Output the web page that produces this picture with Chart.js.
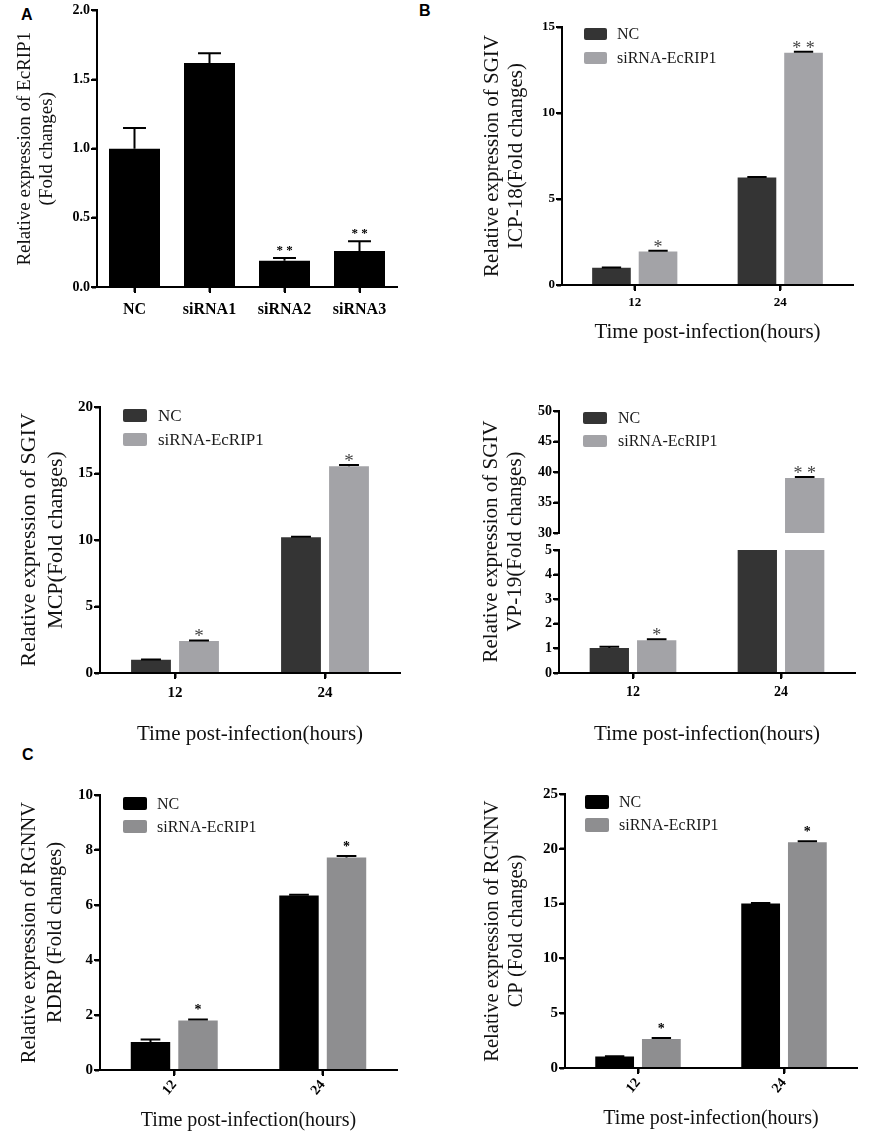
<!DOCTYPE html>
<html>
<head>
<meta charset="utf-8">
<script src="https://cdn.jsdelivr.net/npm/chart.js@4.4.1/dist/chart.umd.min.js"></script>
<style>
  html, body { margin: 0; padding: 0; background: #fff; }
  body { position: relative; width: 893px; height: 1137px; overflow: hidden; }
  canvas { position: absolute; }
  .tag { position: absolute; font: bold 16px "Liberation Sans", Arial, sans-serif; color: #000; }
</style>
</head>
<body>
<div class="tag" style="left:21px;top:6px">A</div>
<div class="tag" style="left:419px;top:2px">B</div>
<div class="tag" style="left:22px;top:746px">C</div>

<script>
// ---- data ----
const knockCategories = ['NC', 'siRNA1', 'siRNA2', 'siRNA3'];
const knockValues = [1.0, 1.62, 0.19, 0.26];
const knockErrors = [0.15, 0.07, 0.02, 0.07];
const knockStars = ['', '', '**', '**'];
const knockTicks = [0, 0.5, 1.0, 1.5, 2.0];

const hours = ['12', '24'];
const seriesNames = ['NC', 'siRNA-EcRIP1'];

const icpNC = [1.0, 6.25];
const icpSi = [1.95, 13.5];
const icpErrNC = [0.02, 0.03];
const icpErrSi = [0.04, 0.06];
const icpStars = ['*', '**'];
const icpTicks = [0, 5, 10, 15];

const mcpNC = [1.0, 10.2];
const mcpSi = [2.4, 15.55];
const mcpErrNC = [0.02, 0.05];
const mcpErrSi = [0.05, 0.08];
const mcpStars = ['*', '*'];
const mcpTicks = [0, 5, 10, 15, 20];

const vpNC = [1.02, 10];      // 24 h NC bar sits inside the axis break
const vpSi = [1.33, 39.0];
const vpErrNC = [0.05, null];
const vpErrSi = [0.04, 0.2];
const vpStars = ['*', '**'];
const vpLowTicks = [0, 1, 2, 3, 4, 5];
const vpHighTicks = [30, 35, 40, 45, 50];

const rdrpNC = [1.02, 6.35];
const rdrpSi = [1.8, 7.73];
const rdrpErrNC = [0.09, 0.02];
const rdrpErrSi = [0.04, 0.05];
const rdrpStars = ['*', '*'];
const rdrpTicks = [0, 2, 4, 6, 8, 10];

const cpNC = [1.05, 15.0];
const cpSi = [2.65, 20.6];
const cpErrNC = [0.03, 0.05];
const cpErrSi = [0.08, 0.08];
const cpStars = ['*', '*'];
const cpTicks = [0, 5, 10, 15, 20, 25];

const SERIF = "'Liberation Serif', 'Times New Roman', serif";

// error bars, asterisks, axis lines and the legend drawn inside the plot
const extras = {
  id: 'extras',
  afterDatasetsDraw(chart, args, o) {
    const ctx = chart.ctx;
    chart.data.datasets.forEach((ds, di) => {
      const meta = chart.getDatasetMeta(di);
      const ys = chart.scales[meta.yAxisID];
      meta.data.forEach((bar, i) => {
        const v = ds.data[i];
        const e = ds.errors ? ds.errors[i] : null;
        const s = ds.stars ? ds.stars[i] : '';
        if (e == null && !s) return;
        let top = ys.getPixelForValue(v);
        ctx.save();
        if (e != null) {
          const yTop = ys.getPixelForValue(v + e);
          const half = bar.width * o.cap / 2;
          ctx.strokeStyle = '#000';
          ctx.lineWidth = o.errWidth;
          ctx.beginPath();
          ctx.moveTo(bar.x, top);
          ctx.lineTo(bar.x, yTop);
          ctx.moveTo(bar.x - half, yTop);
          ctx.lineTo(bar.x + half, yTop);
          ctx.stroke();
          top = yTop;
        }
        if (s) {
          ctx.fillStyle = o.starColor;
          ctx.font = o.starFont;
          ctx.textAlign = 'center';
          ctx.textBaseline = 'alphabetic';
          ctx.fillText(s.split('').join(' '), bar.x, top + o.starShift);
        }
        ctx.restore();
      });
    });
  },
  afterDraw(chart, args, o) {
    const ctx = chart.ctx;
    // axis lines with outward tick marks, placed from the scales
    Object.keys(chart.scales).forEach(id => {
      if (id === 'yGap') return;
      const sc = chart.scales[id];
      ctx.save();
      ctx.strokeStyle = '#000';
      ctx.lineWidth = 2;
      ctx.beginPath();
      if (sc.isHorizontal()) {
        const y = Math.round(sc.top);
        ctx.moveTo(sc.left - 1, y);
        ctx.lineTo(sc.right, y);
        sc.ticks.forEach((t, i) => {
          const x = Math.round(sc.getPixelForTick(i));
          ctx.moveTo(x, y);
          ctx.lineTo(x, y + 6);
        });
      } else {
        const x = Math.round(sc.right);
        ctx.moveTo(x, sc.top - 1);
        ctx.lineTo(x, sc.bottom + 1);
        sc.ticks.forEach(t => {
          const y = Math.round(sc.getPixelForValue(t.value));
          ctx.moveTo(x - 6, y);
          ctx.lineTo(x, y);
        });
      }
      ctx.stroke();
      ctx.restore();
    });
    if (!o.legend) return;
    const a = chart.chartArea;
    const L = o.legend;
    let k = 0;
    chart.data.datasets.forEach(ds => {
      if (ds.inLegend === false) return;
      const x = a.left + L.dx;
      const y = a.top + L.dy + k * L.gap;
      ctx.save();
      ctx.fillStyle = ds.backgroundColor;
      ctx.beginPath();
      if (ctx.roundRect) ctx.roundRect(x, y, L.w, L.h, 2); else ctx.rect(x, y, L.w, L.h);
      ctx.fill();
      ctx.fillStyle = '#1a1a1a';
      ctx.font = L.font;
      ctx.textAlign = 'left';
      ctx.textBaseline = 'middle';
      ctx.fillText(ds.label, x + L.w + L.textGap, y + L.h / 2 + 1);
      ctx.restore();
      k++;
    });
  }
};

function yAxis(ticksArr, c) {
  return {
    type: 'linear',
    position: 'left',
    min: ticksArr[0],
    max: ticksArr[ticksArr.length - 1],
    afterBuildTicks: s => { s.ticks = ticksArr.map(v => ({ value: v })); },
    ticks: {
      color: '#000',
      padding: 2,
      autoSkip: false,
      font: { family: SERIF, weight: 'bold', size: c.tickSize },
      callback: c.fmt || (v => String(v))
    },
    grid: { display: true, drawOnChartArea: false, drawTicks: true, tickLength: 5, tickWidth: 2, tickColor: '#000' },
    border: { display: true, color: '#000', width: 2 },
    title: c.title ? {
      display: true,
      text: c.title,
      color: '#111',
      font: { family: SERIF, size: c.titleSize, lineHeight: c.titleLH },
      padding: { top: c.titlePad, bottom: 0 }
    } : { display: false },
    afterFit: s => { s.width = c.width; }
  };
}

function xAxis(labels, c) {
  return {
    type: 'category',
    labels: labels,
    offset: true,
    stacked: !!c.stacked,
    grid: { display: true, offset: false, drawOnChartArea: false, drawTicks: true, tickLength: 5, tickWidth: 2, tickColor: '#000' },
    border: { display: true, color: '#000', width: 2 },
    ticks: {
      color: '#000',
      padding: c.tickPad,
      autoSkip: false,
      minRotation: c.rot || 0,
      maxRotation: c.rot || 0,
      font: { family: SERIF, weight: 'bold', size: c.tickSize }
    },
    title: c.title ? {
      display: true,
      text: c.title,
      color: '#111',
      font: { family: SERIF, size: c.titleSize, lineHeight: 1.15 },
      padding: { top: 0, bottom: c.titlePad }
    } : { display: false },
    afterFit: s => { s.height = c.height; }
  };
}

function makeChart(box, datasets, scales, pad, extraOpts) {
  const cv = document.createElement('canvas');
  cv.width = box[2];
  cv.height = box[3];
  cv.style.left = box[0] + 'px';
  cv.style.top = box[1] + 'px';
  cv.style.width = box[2] + 'px';
  cv.style.height = box[3] + 'px';
  document.body.appendChild(cv);
  try {
    return new Chart(cv, {
      type: 'bar',
      data: { datasets: datasets },
      options: {
        responsive: false,
        animation: false,
        layout: { padding: pad },
        scales: scales,
        plugins: {
          legend: { display: false },
          tooltip: { enabled: false },
          extras: extraOpts
        }
      },
      plugins: [extras]
    });
  } catch (err) {
    console.error(err);
  }
}

function pairSets(nc, si, errNC, errSi, stars, colNC, colSi, c) {
  return [
    { label: seriesNames[0], data: nc, errors: errNC, backgroundColor: colNC, borderWidth: 0,
      categoryPercentage: c.cat, barPercentage: c.bar, clip: 0, yAxisID: c.y || 'y', stack: c.stack ? 'nc' : undefined },
    { label: seriesNames[1], data: si, errors: errSi, stars: stars, backgroundColor: colSi, borderWidth: 0,
      categoryPercentage: c.cat, barPercentage: c.bar, clip: 0, yAxisID: c.y || 'y', stack: c.stack ? 'si' : undefined }
  ];
}

const TITLE_X = 'Time post-infection(hours)';

// ---- A : knock-down efficiency ----
makeChart([0, 0, 440, 345],
  [{ label: 'EcRIP1', data: knockValues, errors: knockErrors, stars: knockStars,
     backgroundColor: '#000', borderWidth: 0, categoryPercentage: 0.8, barPercentage: 0.85, clip: 0 }],
  {
    x: xAxis(knockCategories, { tickSize: 16, tickPad: 8, height: 58 }),
    y: yAxis(knockTicks, { tickSize: 14, width: 97, fmt: v => v.toFixed(1),
      title: ['Relative expression of EcRIP1', '(Fold changes)'], titleSize: 19, titleLH: 1.15, titlePad: 14 })
  },
  { left: 0, top: 10, right: 43, bottom: 0 },
  { cap: 0.45, errWidth: 2, starFont: 'bold 13px ' + SERIF, starColor: '#000', starShift: -4 });

// ---- B : ICP-18 ----
const darkB = '#343434', grayB = '#a3a3a7';
makeChart([440, 0, 453, 350],
  pairSets(icpNC, icpSi, icpErrNC, icpErrSi, icpStars, darkB, grayB, { cat: 0.64, bar: 0.83 }),
  {
    x: xAxis(hours, { tickSize: 13, tickPad: 5, height: 65, title: TITLE_X, titleSize: 21, titlePad: 5 }),
    y: yAxis(icpTicks, { tickSize: 13, width: 122,
      title: ['Relative expression of SGIV', 'ICP-18(Fold changes)'], titleSize: 21, titleLH: 1.15, titlePad: 40 })
  },
  { left: 0, top: 27, right: 40, bottom: 0 },
  { cap: 0.5, errWidth: 2, starFont: '18px ' + SERIF, starColor: '#444', starShift: 2,
    legend: { dx: 22, dy: 1, gap: 24, w: 23, h: 12, textGap: 10, font: '16px ' + SERIF } });

// ---- middle left : MCP ----
makeChart([0, 370, 440, 380],
  pairSets(mcpNC, mcpSi, mcpErrNC, mcpErrSi, mcpStars, darkB, grayB, { cat: 0.64, bar: 0.83 }),
  {
    x: xAxis(hours, { tickSize: 15, tickPad: 6, height: 77, title: TITLE_X, titleSize: 21, titlePad: 3 }),
    y: yAxis(mcpTicks, { tickSize: 15, width: 100,
      title: ['Relative expression of SGIV', 'MCP(Fold changes)'], titleSize: 22, titleLH: 1.25, titlePad: 15 })
  },
  { left: 0, top: 37, right: 40, bottom: 0 },
  { cap: 0.5, errWidth: 2, starFont: '19px ' + SERIF, starColor: '#444', starShift: 2,
    legend: { dx: 23, dy: 2, gap: 24, w: 24, h: 13, textGap: 11, font: '17px ' + SERIF } });

// ---- middle right : VP-19, broken axis made of two stacked value scales ----
const vpSets = pairSets(vpNC, vpSi, vpErrNC, [vpErrSi[0], null], [vpStars[0], ''], darkB, grayB,
  { cat: 0.64, bar: 0.83, y: 'yLow', stack: true })
  .concat(pairSets(vpNC, vpSi, [null, null], [null, vpErrSi[1]], ['', vpStars[1]], darkB, grayB,
  { cat: 0.64, bar: 0.83, y: 'yHigh', stack: true }).map(d => Object.assign(d, { inLegend: false })));
const yHigh = Object.assign(yAxis(vpHighTicks, { tickSize: 14, width: 119 }), { stack: 'vp', stackWeight: 122, weight: 3, stacked: false });
const yLow = Object.assign(yAxis(vpLowTicks, { tickSize: 14, width: 119 }), { stack: 'vp', stackWeight: 123, weight: 1, stacked: false });
const yGap = {
  type: 'linear', position: 'left', min: 0, max: 1, stack: 'vp', stackWeight: 17, weight: 2,
  ticks: { display: false }, grid: { display: false }, border: { display: false },
  title: { display: true, text: ['Relative expression of SGIV', 'VP-19(Fold changes)'], color: '#111',
           font: { family: SERIF, size: 21, lineHeight: 1.15 }, padding: { top: 39, bottom: 0 } },
  afterFit: s => { s.width = 119; }
};
makeChart([440, 370, 453, 380], vpSets,
  {
    x: xAxis(hours, { tickSize: 14, tickPad: 6, height: 77, title: TITLE_X, titleSize: 21, titlePad: 3, stacked: true }),
    yHigh: yHigh,
    yGap: yGap,
    yLow: yLow
  },
  { left: 0, top: 41, right: 38, bottom: 0 },
  { cap: 0.5, errWidth: 2, starFont: '18px ' + SERIF, starColor: '#444', starShift: 2,
    legend: { dx: 24, dy: 1, gap: 23, w: 24, h: 12, textGap: 11, font: '16px ' + SERIF } });

// ---- C left : RDRP ----
const blackC = '#000000', grayC = '#8e8e90';
makeChart([0, 740, 440, 397],
  pairSets(rdrpNC, rdrpSi, rdrpErrNC, rdrpErrSi, rdrpStars, blackC, grayC, { cat: 0.64, bar: 0.83 }),
  {
    x: xAxis(hours, { tickSize: 14, tickPad: 2, rot: 50, height: 67, title: TITLE_X, titleSize: 20, titlePad: 5 }),
    y: yAxis(rdrpTicks, { tickSize: 15, width: 100,
      title: ['Relative expression of RGNNV', 'RDRP (Fold changes)'], titleSize: 20.5, titleLH: 1.25, titlePad: 17 })
  },
  { left: 0, top: 55, right: 43, bottom: 0 },
  { cap: 0.5, errWidth: 2, starFont: 'bold 14px ' + SERIF, starColor: '#000', starShift: -5,
    legend: { dx: 23, dy: 2, gap: 23, w: 24, h: 13, textGap: 10, font: '16px ' + SERIF } });

// ---- C right : CP ----
makeChart([440, 740, 453, 397],
  pairSets(cpNC, cpSi, cpErrNC, cpErrSi, cpStars, blackC, grayC, { cat: 0.64, bar: 0.83 }),
  {
    x: xAxis(hours, { tickSize: 14, tickPad: 2, rot: 50, height: 69, title: TITLE_X, titleSize: 20, titlePad: 7 }),
    y: yAxis(cpTicks, { tickSize: 15, width: 125,
      title: ['Relative expression of RGNNV', 'CP (Fold changes)'], titleSize: 20.5, titleLH: 1.2, titlePad: 40 })
  },
  { left: 0, top: 54, right: 36, bottom: 0 },
  { cap: 0.5, errWidth: 2, starFont: 'bold 14px ' + SERIF, starColor: '#000', starShift: -5,
    legend: { dx: 20, dy: 1, gap: 23, w: 24, h: 14, textGap: 10, font: '16px ' + SERIF } });
</script>
</body>
</html>
